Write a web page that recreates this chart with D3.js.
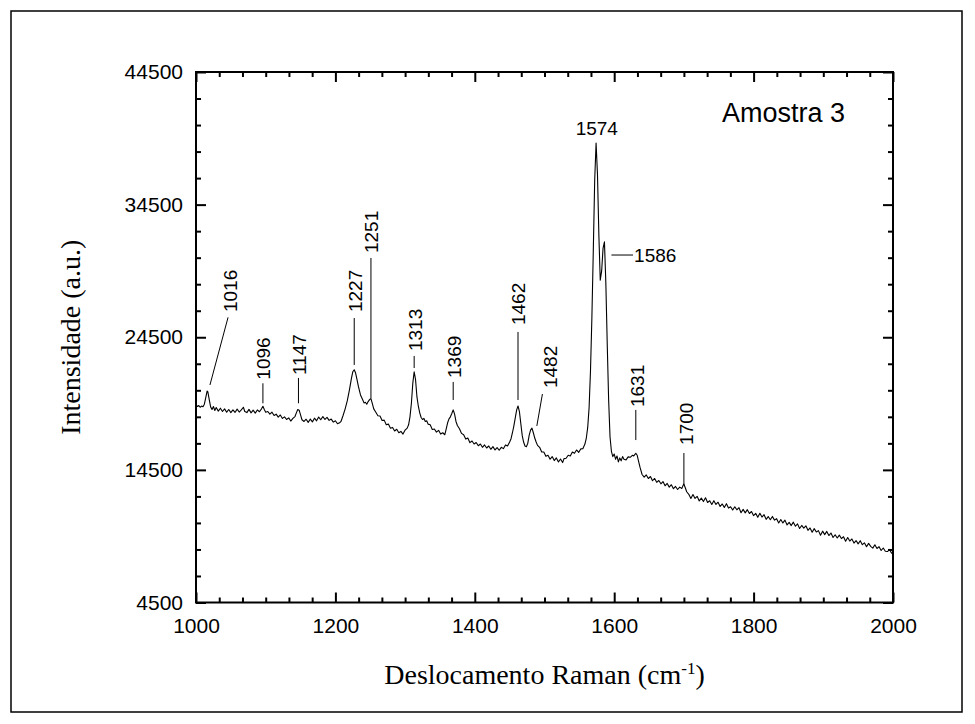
<!DOCTYPE html>
<html>
<head>
<meta charset="utf-8">
<script src="https://cdn.jsdelivr.net/npm/d3@7"></script>
<style>
  body { margin: 0; background: #fff; }
  svg { display: block; }
</style>
</head>
<body>
<div id="chart"></div>
<script>
// Raman spectrum, sample 3 (shift in cm-1, intensity in a.u.)
const spectrum = [
  [1000,19420],[1002,19280],[1004,19350],[1006,19220],[1008,19310],[1010,19260],[1012,19450],[1014,19950],
  [1016,20450],[1017,20380],[1019,19800],[1021,19250],[1023,19050],[1025,19280],[1027,18980],[1029,19200],
  [1032,18930],[1035,19150],[1038,18900],[1041,19100],[1044,18850],[1047,19050],[1050,18820],[1053,19020],
  [1056,18830],[1059,19080],[1062,18860],[1065,19020],[1068,19220],[1070,18900],[1073,18820],[1076,19060],
  [1079,18800],[1082,19000],[1085,18780],[1088,19020],[1091,18880],[1094,19100],[1096,19300],[1098,19050],
  [1100,18850],[1103,18900],[1106,18700],[1109,18850],[1112,18600],[1115,18700],[1118,18480],[1121,18640],
  [1124,18380],[1127,18500],[1130,18300],[1133,18420],[1136,18180],[1139,18380],[1142,18520],[1144,18800],
  [1146,19050],[1148,19000],[1150,18650],[1152,18280],[1155,18150],[1158,18320],[1161,18080],[1164,18330],
  [1167,18120],[1170,18400],[1173,18200],[1176,18480],[1179,18280],[1182,18520],[1185,18300],[1188,18460],
  [1191,18230],[1194,18330],[1197,18100],[1200,18200],[1203,17980],[1206,18050],[1208,18150],[1211,18600],
  [1214,19100],[1217,19700],[1220,20500],[1223,21400],[1225,21900],[1227,22050],[1229,21800],[1231,21300],
  [1233,20800],[1236,20150],[1239,19800],[1241,19550],[1243,19600],[1245,19450],[1247,19650],[1249,19800],
  [1251,19880],[1253,19500],[1255,19100],[1258,18850],[1261,18580],[1264,18560],[1267,18220],[1270,18250],
  [1273,17900],[1276,17950],[1279,17640],[1282,17700],[1285,17430],[1288,17560],[1291,17300],[1294,17400],
  [1297,17200],[1300,17500],[1303,17650],[1305,17900],[1307,18500],[1309,19500],[1311,21000],[1313,21900],
  [1315,21300],[1317,20000],[1319,19300],[1321,18800],[1323,18450],[1325,18300],[1327,18380],[1329,18150],
  [1331,18200],[1333,17950],[1336,17900],[1339,17550],[1342,17580],[1345,17350],[1348,17480],[1351,17200],
  [1354,17300],[1357,17150],[1359,17600],[1361,18050],[1363,18350],[1365,18500],[1367,18750],[1369,19020],
  [1371,18700],[1373,18150],[1375,17850],[1378,17600],[1381,17250],[1384,17150],[1387,16820],[1390,16900],
  [1393,16550],[1396,16680],[1399,16450],[1402,16560],[1405,16320],[1408,16450],[1411,16200],[1414,16380],
  [1417,16150],[1420,16300],[1423,16050],[1426,16250],[1429,16000],[1432,16180],[1435,15980],[1438,16200],
  [1441,16100],[1444,16380],[1447,16300],[1450,16600],[1452,16850],[1454,17300],[1456,17800],[1458,18400],
  [1460,19000],[1462,19320],[1464,18900],[1466,18000],[1468,17100],[1470,16600],[1472,16300],[1474,16250],
  [1476,16500],[1478,17100],[1480,17500],[1482,17650],[1484,17300],[1486,16900],[1488,16600],[1490,16350],
  [1493,16200],[1496,15850],[1499,15850],[1502,15520],[1505,15600],[1508,15300],[1511,15500],[1514,15200],
  [1517,15400],[1520,15100],[1523,15320],[1526,15050],[1528,15350],[1531,15380],[1534,15600],[1537,15550],
  [1540,15850],[1543,15750],[1546,16000],[1549,15820],[1552,16080],[1555,16100],[1558,16450],[1560,16900],
  [1562,17700],[1564,19200],[1566,22000],[1568,26000],[1570,31000],[1572,36300],[1574,39150],[1576,36800],
  [1578,32200],[1580,28800],[1582,29500],[1584,31200],[1586,31700],[1588,28600],[1590,24000],[1592,19800],
  [1594,17000],[1596,15900],[1598,15500],[1600,15700],[1602,15300],[1604,15550],[1606,15100],[1608,15400],
  [1610,15180],[1612,15500],[1614,15300],[1617,15250],[1620,15480],[1623,15450],[1626,15600],[1628,15550],
  [1631,15750],[1633,15600],[1635,15150],[1637,14700],[1640,14150],[1643,13950],[1646,14120],[1649,13850],
  [1652,14000],[1655,13680],[1658,13850],[1661,13560],[1664,13700],[1667,13450],[1670,13620],[1673,13300],
  [1676,13480],[1679,13200],[1682,13380],[1685,13080],[1688,13250],[1691,13020],[1694,13200],[1697,13100],
  [1699,13350],[1700,13420],[1702,13150],[1704,12850],[1707,12660],[1710,12350],[1713,12640],[1716,12350],
  [1719,12510],[1722,12160],[1725,12370],[1728,12110],[1731,12400],[1734,12040],[1737,12170],[1740,11890],
  [1743,12180],[1746,11890],[1749,12060],[1752,11740],[1755,11930],[1758,11670],[1761,11950],[1764,11620],
  [1767,11720],[1770,11470],[1773,11720],[1776,11490],[1779,11650],[1782,11270],[1785,11520],[1788,11260],
  [1791,11500],[1794,11210],[1797,11360],[1800,11050],[1803,11220],[1806,10920],[1809,11230],[1812,10940],
  [1815,11120],[1818,10770],[1821,10980],[1824,10740],[1827,10990],[1830,10710],[1833,10820],[1836,10500],
  [1839,10760],[1842,10500],[1845,10710],[1848,10350],[1851,10540],[1854,10300],[1857,10560],[1860,10250],
  [1863,10430],[1866,10080],[1869,10310],[1872,10110],[1875,10280],[1878,9940],[1881,10120],[1884,9800],
  [1887,10070],[1890,9820],[1893,9920],[1896,9570],[1899,9880],[1902,9620],[1905,9860],[1908,9550],
  [1911,9740],[1914,9400],[1917,9610],[1920,9360],[1923,9580],[1926,9320],[1929,9460],[1932,9120],
  [1935,9400],[1938,9130],[1941,9290],[1944,8980],[1947,9170],[1950,8920],[1953,9160],[1956,8860],
  [1959,9000],[1962,8700],[1965,8960],[1968,8730],[1971,8600],[1974,8850],[1977,8570],[1980,8710],
  [1983,8420],[1986,8610],[1989,8360],[1992,8340],[1995,8490],[1998,8220],[2000,8300]
];

const xTicks = [1000, 1200, 1400, 1600, 1800, 2000];
const yTicks = [4500, 14500, 24500, 34500, 44500];

// peak labels and where their leader lines sit (data units)
const peakLabels = ["1016", "1096", "1147", "1227", "1251", "1313", "1369", "1462", "1482", "1574", "1586", "1631", "1700"];
const labelLayout = {
  "1016": {line: [1020, 20900, 1046, 26000], text: [1049, 26400], vertical: true},
  "1096": {line: [1096, 19520, 1096, 21030], text: [1097, 21300], vertical: true},
  "1147": {line: [1147, 19520, 1147, 21430], text: [1148, 21650], vertical: true},
  "1227": {line: [1227, 22410, 1227, 25950], text: [1228, 26400], vertical: true},
  "1251": {line: [1251, 19920, 1251, 30480], text: [1252, 30850], vertical: true},
  "1313": {line: [1313, 22180, 1313, 23090], text: [1314, 23460], vertical: true},
  "1369": {line: [1369, 19770, 1369, 21130], text: [1371, 21430], vertical: true},
  "1462": {line: [1462, 19770, 1462, 24900], text: [1463, 25420], vertical: true},
  "1482": {line: [1489, 17810, 1497, 20220], text: [1509, 20670], vertical: true},
  "1574": {line: null, text: [1575, 39750], vertical: false},
  "1586": {line: [1596, 30700, 1627, 30700], text: [1628.5, 30700], vertical: false},
  "1631": {line: [1631, 16750, 1631, 19020], text: [1633, 19240], vertical: true},
  "1700": {line: [1700, 13360, 1700, 15770], text: [1703, 16380], vertical: true}
};

const W = 975, H = 724;
const margin = {top: 72, right: 82, bottom: 121.5, left: 196};
const width = W - margin.left - margin.right;
const height = H - margin.top - margin.bottom;

const sans = "'Liberation Sans', Arial, sans-serif";
const serif = "'Liberation Serif', 'Times New Roman', serif";

const svg = d3.select("#chart").append("svg")
    .attr("width", W)
    .attr("height", H);

// outer frame
svg.append("rect")
    .attr("x", 11).attr("y", 11)
    .attr("width", 951).attr("height", 701)
    .attr("fill", "none")
    .attr("stroke", "#000")
    .attr("stroke-width", 1.5);

const g = svg.append("g")
    .attr("transform", `translate(${margin.left},${margin.top})`);

const x = d3.scaleLinear().domain([1000, 2000]).range([0, width]);
const y = d3.scaleLinear().domain([4500, 44500]).range([height, 0]);

const xMinor = d3.range(0, 31).map(i => 1000 + i * 200 / 6).filter((d, i) => i % 6 !== 0);
const yMinor = d3.range(4500, 44501, 2000).filter(d => (d - 4500) % 10000 !== 0);

function styleAxis(sel) {
    sel.select(".domain").remove();
    sel.selectAll("line").attr("stroke", "#000").attr("stroke-width", 2);
    sel.selectAll("text").attr("fill", "#000").style("font-family", sans).style("font-size", "21px");
}

// bottom
g.append("g").attr("transform", `translate(0,${height})`)
    .call(d3.axisBottom(x).tickValues(xTicks).tickSize(-10).tickPadding(15.5).tickFormat(d3.format("d")))
    .call(styleAxis);
g.append("g").attr("transform", `translate(0,${height})`)
    .call(d3.axisBottom(x).tickValues(xMinor).tickSize(-5).tickFormat(""))
    .call(styleAxis);
// top
g.append("g")
    .call(d3.axisTop(x).tickValues(xTicks).tickSize(-10).tickFormat(""))
    .call(styleAxis);
g.append("g")
    .call(d3.axisTop(x).tickValues(xMinor).tickSize(-5).tickFormat(""))
    .call(styleAxis);
// left
g.append("g")
    .call(d3.axisLeft(y).tickValues(yTicks).tickSize(-10).tickPadding(13).tickFormat(d3.format("d")))
    .call(styleAxis);
g.append("g")
    .call(d3.axisLeft(y).tickValues(yMinor).tickSize(-5).tickFormat(""))
    .call(styleAxis);
// right
g.append("g").attr("transform", `translate(${width},0)`)
    .call(d3.axisRight(y).tickValues(yTicks).tickSize(-10).tickFormat(""))
    .call(styleAxis);
g.append("g").attr("transform", `translate(${width},0)`)
    .call(d3.axisRight(y).tickValues(yMinor).tickSize(-5).tickFormat(""))
    .call(styleAxis);

// plot box
g.append("rect")
    .attr("width", width).attr("height", height)
    .attr("fill", "none")
    .attr("stroke", "#000")
    .attr("stroke-width", 2);

// spectrum line
const line = d3.line()
    .x(d => x(d[0]))
    .y(d => y(d[1]));

g.append("path")
    .datum(spectrum)
    .attr("fill", "none")
    .attr("stroke", "#000")
    .attr("stroke-width", 1.1)
    .attr("stroke-linejoin", "round")
    .attr("d", line);

// peak annotations
peakLabels.forEach(lbl => {
    const p = labelLayout[lbl];
    if (p.line) {
        g.append("line")
            .attr("x1", x(p.line[0])).attr("y1", y(p.line[1]))
            .attr("x2", x(p.line[2])).attr("y2", y(p.line[3]))
            .attr("stroke", "#000")
            .attr("stroke-width", 1);
    }
    const t = g.append("text")
        .style("font-family", sans)
        .style("font-size", "19px")
        .attr("fill", "#000")
        .text(lbl);
    if (p.vertical) {
        t.attr("transform", `translate(${x(p.text[0])},${y(p.text[1])}) rotate(-90)`)
            .attr("dy", "0.35em");
    } else if (lbl === "1574") {
        t.attr("x", x(p.text[0])).attr("y", y(p.text[1]))
            .attr("text-anchor", "middle");
    } else {
        t.attr("x", x(p.text[0])).attr("y", y(p.text[1]))
            .attr("dy", "0.35em");
    }
});

// sample name
g.append("text")
    .attr("x", 526)
    .attr("y", 50)
    .style("font-family", sans)
    .style("font-size", "27px")
    .text("Amostra 3");

// axis titles
g.append("text")
    .attr("x", width / 2)
    .attr("y", height + 81)
    .attr("text-anchor", "middle")
    .style("font-family", serif)
    .style("font-size", "28px")
    .html('Deslocamento Raman (cm<tspan dy="-10" font-size="17px">-1</tspan><tspan dy="10">)</tspan>');

g.append("text")
    .attr("transform", `translate(${-116},${height / 2}) rotate(-90)`)
    .attr("text-anchor", "middle")
    .style("font-family", serif)
    .style("font-size", "28px")
    .text("Intensidade (a.u.)");
</script>
</body>
</html>
